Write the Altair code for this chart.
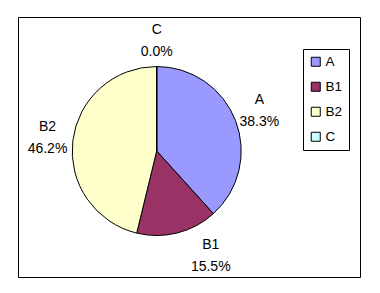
import altair as alt
import pandas as pd

cats = ["A", "B1", "B2", "C"]
vals = [38.3, 15.5, 46.2, 0.0]
colors = ["#9999FF", "#993366", "#FFFFCC", "#CCFFFF"]

df = pd.DataFrame({"cat": cats, "val": vals, "idx": list(range(len(cats)))})

FONT = "Liberation Sans"
CX, CY = 138.7, 134
base = alt.Chart(df).transform_window(
    cum="sum(val)", sort=[{"field": "idx"}]
).transform_calculate(
    mid="datum.cum - datum.val/2",
    pct="format(datum.val, '.1f') + '%'"
)

theta_scale = alt.Scale(domain=[0, 100])

arc = base.mark_arc(stroke="black", strokeWidth=1, radius=84.5).encode(
    theta=alt.Theta("val:Q", stack=True, scale=theta_scale),
    order=alt.Order("idx:Q"),
    color=alt.Color(
        "cat:N",
        scale=alt.Scale(domain=cats, range=colors),
        legend=alt.Legend(
            orient="none", legendX=285, legendY=32, title=None,
            symbolType="square", symbolSize=81, symbolStrokeColor="black",
            symbolStrokeWidth=1, labelFontSize=13.5, labelFont=FONT,
            labelColor="black", strokeColor="black", fillColor="white",
            padding=6, rowPadding=10, symbolOpacity=1, labelOffset=3,
        ),
    ),
    x=alt.value(CX),
    y=alt.value(CY),
)

def labels(data_filter, dx=0, dy=0):
    ch = base.transform_filter(data_filter)
    t1 = ch.mark_text(radius=110, dy=-11 + dy, dx=dx, font=FONT, fontSize=14, color="black").encode(
        theta=alt.Theta("mid:Q", scale=theta_scale), text="cat:N",
        x=alt.value(CX), y=alt.value(CY))
    t2 = ch.mark_text(radius=110, dy=11 + dy, dx=dx, font=FONT, fontSize=14, color="black").encode(
        theta=alt.Theta("mid:Q", scale=theta_scale), text="pct:N",
        x=alt.value(CX), y=alt.value(CY))
    return [t1, t2]

layers = [arc]
layers += labels("datum.cat != 'B1'")
layers += labels("datum.cat == 'B1'", dx=27, dy=-2)

chart = alt.layer(*layers).properties(
    width=342, height=260,
    autosize=alt.AutoSizeParams(type="none"),
    padding={"left": 18, "top": 17, "right": 20, "bottom": 16},
    background="white",
).configure_view(stroke="black", strokeWidth=1)

chart.save("out.html", embed_options={"renderer": "svg", "actions": False})
